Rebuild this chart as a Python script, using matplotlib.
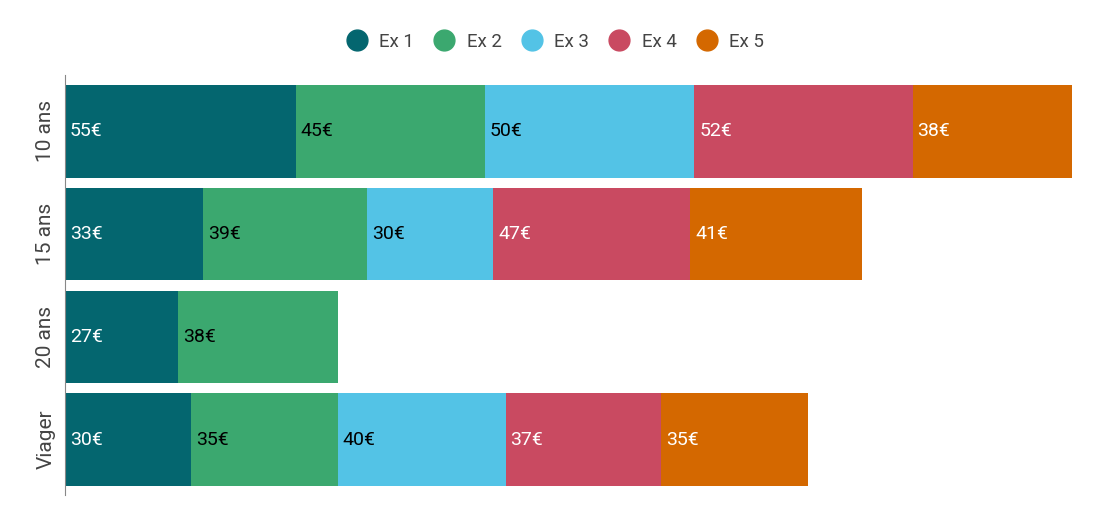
import matplotlib.pyplot as plt
from matplotlib.lines import Line2D
import numpy as np

plt.rcParams["font.family"] = ["Roboto", "DejaVu Sans"]

# données
categories = ["10 ans", "15 ans", "20 ans", "Viager"]
series = ["Ex 1", "Ex 2", "Ex 3", "Ex 4", "Ex 5"]
ex1 = [55, 33, 27, 30]
ex2 = [45, 39, 38, 35]
ex3 = [50, 30, 0, 40]
ex4 = [52, 47, 0, 37]
ex5 = [38, 41, 0, 35]
values = [ex1, ex2, ex3, ex4, ex5]

colors = ["#04666F", "#3BA86F", "#53C3E6", "#C94A61", "#D46800"]
text_colors = ["white", "black", "black", "white", "white"]

fig = plt.figure(figsize=(11.02, 5.26), dpi=100)
ax = fig.add_axes([65 / 1102, 31 / 526, 1007 / 1102, 420 / 526])

y = np.arange(len(categories))
left = np.zeros(len(categories))
for vals, col, tcol in zip(values, colors, text_colors):
    vals = np.array(vals, dtype=float)
    ax.barh(y, vals, left=left, height=0.9, color=col)
    for yi, (l, v) in enumerate(zip(left, vals)):
        if v > 0:
            ax.text(l + 1.2, yi, f"{int(v)}€", color=tcol, fontsize=14,
                    va="center", ha="left")
    left += vals

ax.set_xlim(0, 240)
ax.set_ylim(3.54, -0.55)
ax.set_yticks(y)
ax.set_yticklabels(categories, rotation=90, va="center", fontsize=15, color="#444444")
ax.tick_params(axis="y", length=0, pad=7)
ax.set_xticks([])
for s in ["top", "right", "bottom"]:
    ax.spines[s].set_visible(False)
ax.spines["left"].set_color("#888888")

handles = [Line2D([], [], marker="o", linestyle="", markersize=15,
                  markerfacecolor=c, markeredgecolor=c) for c in colors]
fig.legend(handles, series, loc="center", bbox_to_anchor=(551 / 1102, 1 - 42 / 526),
           ncol=5, frameon=False, fontsize=13.5, handletextpad=0.2,
           columnspacing=0.6, labelcolor="#444444")

fig.savefig("out.png", dpi=100)
